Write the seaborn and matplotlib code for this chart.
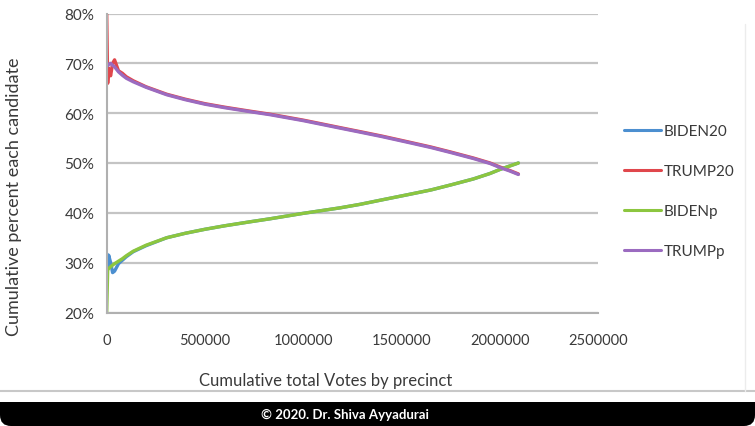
import matplotlib
matplotlib.use("Agg")
import matplotlib.pyplot as plt
import seaborn as sns
import pandas as pd
from matplotlib.patches import FancyBboxPatch, Rectangle
from matplotlib.lines import Line2D
from matplotlib.ticker import FuncFormatter

# ---- data ----
votes = [0, 5000, 10000, 20000, 30000, 40000, 60000, 80000, 100000, 135000,
         200000, 305000, 400000, 500000, 600000, 729000, 830000, 1000000,
         1187000, 1288000, 1400000, 1526000, 1650000, 1750000, 1865000,
         1950000, 2000000, 2050000, 2094000]
biden20 = [31.8, 29.0, 31.5, 30.0, 28.0, 28.3, 29.8, 30.5, 31.2, 32.2,
           33.4, 35.0, 35.9, 36.7, 37.4, 38.2, 38.8, 39.9,
           41.0, 41.7, 42.6, 43.6, 44.6, 45.6, 46.8,
           47.9, 48.7, 49.4, 50.0]
trump20 = [80.0, 66.0, 69.0, 67.5, 70.0, 70.7, 68.5, 68.0, 67.3, 66.5,
           65.3, 63.8, 62.8, 61.9, 61.2, 60.4, 59.8, 58.6,
           57.1, 56.3, 55.4, 54.3, 53.2, 52.2, 51.0,
           50.0, 49.2, 48.5, 47.8]
bidenp = [20.0, 28.5, 28.8, 29.2, 29.5, 29.8, 30.3, 30.8, 31.4, 32.3,
          33.5, 35.0, 35.9, 36.7, 37.4, 38.2, 38.8, 39.9,
          41.0, 41.7, 42.6, 43.6, 44.6, 45.6, 46.8,
          47.9, 48.7, 49.4, 50.0]
trumpp = [70.0, 69.5, 69.8, 70.0, 69.6, 69.3, 68.3, 67.6, 67.0, 66.3,
          65.2, 63.7, 62.7, 61.8, 61.1, 60.3, 59.7, 58.5,
          57.0, 56.2, 55.3, 54.2, 53.1, 52.1, 50.9,
          49.9, 49.1, 48.4, 47.7]
series_names = ["BIDEN20", "TRUMP20", "BIDENp", "TRUMPp"]
colors = ["#4C8FD0", "#E0474C", "#8CC63F", "#9B6BC0"]

frames = []
for name, vals in zip(series_names, [biden20, trump20, bidenp, trumpp]):
    frames.append(pd.DataFrame({"votes": votes,
                                "pct": [v / 100 for v in vals],
                                "series": name}))
df = pd.concat(frames, ignore_index=True)

sns.set_theme(style="white")
plt.rcParams["font.family"] = ["Lato", "DejaVu Sans"]

W, H = 755, 427
fig = plt.figure(figsize=(W / 100, H / 100), dpi=100)
fig.patch.set_facecolor("white")

x0, x1 = 106.7, 598.2
y0, y1 = 14.5, 313.5
ax = fig.add_axes([x0 / W, (H - y1) / H, (x1 - x0) / W, (y1 - y0) / H])

sns.lineplot(data=df, x="votes", y="pct", hue="series", hue_order=series_names,
             palette=colors, estimator=None, sort=False, lw=2.4, ax=ax)

TXT = "#3a3a3a"
ax.set_xlim(0, 2500000)
ax.set_ylim(0.2, 0.8)
ax.set_xticks([0, 500000, 1000000, 1500000, 2000000, 2500000])
ax.set_xticklabels(["0", "500000", "1000000", "1500000", "2000000", "2500000"])
ax.set_yticks([0.2, 0.3, 0.4, 0.5, 0.6, 0.7, 0.8])
ax.yaxis.set_major_formatter(FuncFormatter(lambda v, p: f"{round(v * 100)}%"))
ax.grid(axis="y", color="#c4c4c4", lw=1.6)
ax.grid(axis="x", visible=False)
ax.set_axisbelow(True)
for s in ["top", "right"]:
    ax.spines[s].set_visible(False)
for s in ["left", "bottom"]:
    ax.spines[s].set_color("#b0b0b0")
    ax.spines[s].set_linewidth(1.5)
ax.tick_params(axis="both", which="both", direction="out", length=5,
               width=1.2, color="#b0b0b0", labelcolor=TXT, pad=4)
ax.tick_params(axis="y", labelsize=11)
ax.tick_params(axis="x", labelsize=10.5, pad=10)
ax.set_xlabel("Cumulative total Votes by precinct", fontsize=12, color=TXT)
ax.set_ylabel("Cumulative percent each candidate", fontsize=13, color=TXT)
ax.xaxis.set_label_coords(0.446, -0.20)
ax.yaxis.set_label_coords(-0.172, 0.39)

leg = ax.legend(loc="upper left", bbox_to_anchor=(1.04, 0.65), frameon=False,
                fontsize=11, handlelength=2.4, handletextpad=0.2,
                labelspacing=1.7, borderaxespad=0)
for t in leg.get_texts():
    t.set_color(TXT)
for h in leg.legend_handles:
    h.set_linewidth(2.2)

# chart frame lines
fig.add_artist(Line2D([0, 1], [(H - 392) / H] * 2, color="#c8c8c8", lw=1.5,
                      transform=fig.transFigure))
fig.add_artist(Line2D([745 / W] * 2, [(H - 392) / H, (H - 25) / H],
                      color="#ececec", lw=1.0, transform=fig.transFigure))

# black banner at the bottom with rounded bottom corners
bax = fig.add_axes([0, 0, 1, 24 / H])
bax.set_xlim(0, W)
bax.set_ylim(0, 24)
bax.axis("off")
bax.add_patch(FancyBboxPatch((0, 0), W, 24,
                             boxstyle="round,pad=0,rounding_size=11",
                             fc="black", ec="none"))
bax.add_patch(Rectangle((0, 12), W, 12, fc="black", ec="none"))
bax.text(345, 12, "© 2020. Dr. Shiva Ayyadurai", color="white", fontsize=9.5,
         ha="center", va="center", fontweight="bold")

fig.savefig("out.png", dpi=100)
